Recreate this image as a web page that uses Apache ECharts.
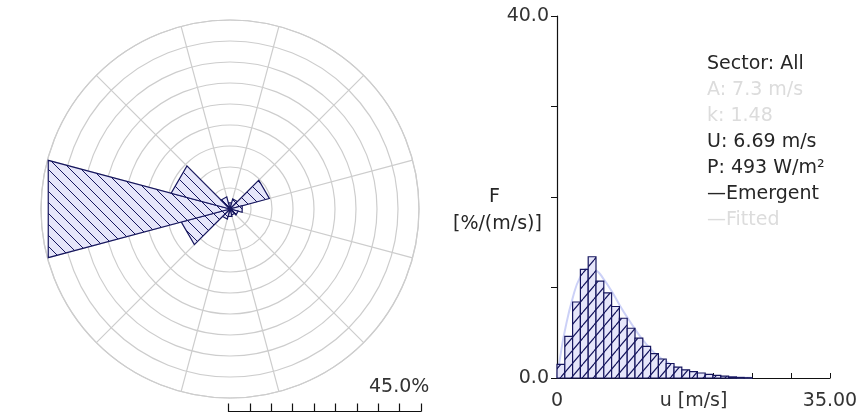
<!DOCTYPE html>
<html>
<head>
<meta charset="utf-8">
<script src="https://cdn.jsdelivr.net/npm/echarts@6/dist/echarts.min.js"></script>
<style>
  html, body { margin: 0; padding: 0; background: #ffffff; }
  #chart { width: 860px; height: 416px; }
</style>
</head>
<body>
<div id="chart"></div>
<script>
// Wind rose: sector centre directions (deg) and frequency per sector (%)
const sectorAngles = [0, 30, 60, 90, 120, 150, 180, 210, 240, 270, 300, 330];
const sectorFreq   = [1.5, 2.5, 9.7, 3.0, 2.0, 1.5, 1.8, 2.5, 12.0, 44.8, 14.5, 3.0];
const sectorWidth = 30;
const roseMax = 45;
const roseStep = 5;

// Speed distribution: bin start (m/s), 1 m/s wide bins, frequency in %/(m/s)
const speedBins = [0, 1, 2, 3, 4, 5, 6, 7, 8, 9, 10, 11, 12, 13, 14, 15, 16, 17, 18, 19, 20, 21, 22, 23, 24];
const speedFreq = [1.5, 4.6, 8.4, 12.0, 13.4, 10.7, 9.4, 7.9, 6.6, 5.5, 4.4, 3.5, 2.7, 2.1, 1.6, 1.2, 0.9, 0.7, 0.55, 0.4, 0.3, 0.2, 0.12, 0.06, 0.03];

// Fitted distribution curve, points (m/s, %/(m/s))
const fitSpeed = [0, 0.5, 1, 2, 3, 4, 5, 6, 7, 8, 9, 10, 11, 12, 13, 14, 16, 18, 20, 22, 25];
const fitFreq  = [0, 2.8, 5.2, 8.8, 11.2, 12.1, 11.9, 10.9, 9.6, 8.1, 6.7, 5.4, 4.2, 3.2, 2.4, 1.8, 0.9, 0.45, 0.2, 0.08, 0.02];

// Axis ranges
const speedMax = 35;
const speedTick = 5;
const freqMax = 40;
const freqTick = 10;

// Statistics panel
const statLines = ['Sector: All', 'A: 7.3 m/s', 'k: 1.48', 'U: 6.69 m/s', 'P: 493 W/m\u00b2', '\u2014Emergent', '\u2014Fitted'];
const statFaint = [false, true, true, false, false, false, true];

const scaleLabel = '45.0%';
const yNameLines = ['F', '[%/(m/s)]'];

const NAVY = '#16165e';
const FILL = '#e6e6fa';
const FONT = '"DejaVu Sans", Verdana, sans-serif';

function hatchTile(w, h, dir, width) {
  const c = document.createElement('canvas');
  c.width = w; c.height = h;
  const g = c.getContext('2d');
  g.fillStyle = FILL;
  g.fillRect(0, 0, w, h);
  g.strokeStyle = NAVY;
  g.lineWidth = width;
  g.beginPath();
  for (let k = -1; k <= 1; k++) {
    if (dir === 'back') {           // "\" lines
      g.moveTo(k * w, 0); g.lineTo(k * w + w, h);
    } else {                        // "/" lines
      g.moveTo(k * w, h); g.lineTo(k * w + w, 0);
    }
  }
  g.stroke();
  return c;
}

const roseHatch = { image: hatchTile(11, 11, 'back', 1), repeat: 'repeat' };
const histHatch = { image: hatchTile(11, 13, 'fwd', 1.2), repeat: 'repeat' };

const chart = echarts.init(document.getElementById('chart'), null, { renderer: 'canvas' });

const roseCenter = [230, 209];
const roseRadius = 189;

const textGraphics = statLines.map((t, i) => ({
  type: 'text',
  left: 707,
  top: 55 + i * 26,
  style: {
    text: t,
    font: '19px ' + FONT,
    fill: statFaint[i] ? '#dcdcdc' : '#262626'
  }
}));

const option = {
  backgroundColor: '#ffffff',
  animation: false,
  polar: [
    { center: roseCenter, radius: roseRadius },
    { center: roseCenter, radius: roseRadius }
  ],
  angleAxis: [
    {
      polarIndex: 0,
      type: 'category',
      data: sectorAngles.map(String),
      boundaryGap: true,
      startAngle: 90 + sectorWidth / 2,
      clockwise: true,
      axisLine: { show: true, lineStyle: { color: '#cdcdcd', width: 1.2 } },
      axisTick: { show: false },
      axisLabel: { show: false },
      splitLine: { show: true, lineStyle: { color: '#cdcdcd', width: 1.2 } }
    },
    {
      polarIndex: 1,
      type: 'value',
      min: 0, max: 360,
      startAngle: 90,
      clockwise: true,
      show: false
    }
  ],
  radiusAxis: [
    {
      polarIndex: 0,
      type: 'value',
      min: 0, max: roseMax, interval: roseStep,
      axisLine: { show: false },
      axisTick: { show: false },
      axisLabel: { show: false },
      splitLine: { show: true, lineStyle: { color: '#cdcdcd', width: 1.2 } }
    },
    {
      polarIndex: 1,
      type: 'value',
      min: 0, max: roseMax,
      show: false
    }
  ],
  grid: [
    // histogram
    { left: 557, top: 16, width: 273, height: 362, outerBoundsMode: 'none', containLabel: false },
    // rose scale bar
    { left: 228.5, top: 390, width: 192.5, height: 21.5, outerBoundsMode: 'none', containLabel: false }
  ],
  xAxis: [
    {
      gridIndex: 0,
      type: 'value',
      min: 0, max: speedMax, interval: speedTick,
      axisLine: { show: true, lineStyle: { color: '#111', width: 1.2 } },
      axisTick: { show: true, inside: true, length: 5, lineStyle: { color: '#111' } },
      splitLine: { show: false },
      axisLabel: {
        show: true,
        margin: 14,
        color: '#333',
        fontSize: 19,
        fontFamily: FONT,
        formatter: v => (v === 0 ? '0' : (v === speedMax ? speedMax.toFixed(2) : ''))
      },
      name: 'u [m/s]',
      nameLocation: 'middle',
      nameGap: 14,
      nameMoveOverlap: false,
      nameTextStyle: { color: '#333', fontSize: 19, fontFamily: FONT, verticalAlign: 'top' }
    },
    {
      gridIndex: 1,
      type: 'value',
      min: 0, max: roseMax, interval: roseStep,
      axisLine: { show: true, lineStyle: { color: '#111', width: 1.2 } },
      axisTick: { show: true, inside: true, length: 8, lineStyle: { color: '#111', width: 1.2 } },
      axisLabel: { show: false },
      splitLine: { show: false }
    }
  ],
  yAxis: [
    {
      gridIndex: 0,
      type: 'value',
      min: 0, max: freqMax, interval: freqTick,
      axisLine: { show: true, lineStyle: { color: '#111', width: 1.2 } },
      axisTick: { show: true, inside: false, length: 6, lineStyle: { color: '#111' } },
      splitLine: { show: false },
      axisLabel: {
        show: true,
        margin: 8,
        color: '#333',
        fontSize: 19,
        fontFamily: FONT,
        formatter: v => (v === 0 || v === freqMax ? v.toFixed(1) : '')
      }
    },
    {
      gridIndex: 1,
      type: 'value',
      min: 0, max: 1,
      show: false
    }
  ],
  graphic: [
    {
      type: 'text',
      left: 489,
      top: 188,
      style: { text: yNameLines[0], font: '19px ' + FONT, fill: '#262626' }
    },
    {
      type: 'text',
      left: 453,
      top: 215,
      style: { text: yNameLines[1], font: '19px ' + FONT, fill: '#262626' }
    },
    {
      type: 'text',
      left: 369,
      top: 378,
      style: { text: scaleLabel, font: '19px ' + FONT, fill: '#333' }
    }
  ].concat(textGraphics),
  series: [
    {
      type: 'custom',
      name: 'rose',
      coordinateSystem: 'polar',
      polarIndex: 1,
      data: sectorAngles.map((a, i) => [sectorFreq[i], a]),
      renderItem(params, api) {
        const r = api.value(0);
        const a = api.value(1);
        const c = api.coord([0, a]);
        const p1 = api.coord([r, a - sectorWidth / 2]);
        const p2 = api.coord([r, a + sectorWidth / 2]);
        return {
          type: 'polygon',
          shape: { points: [c, p1, p2] },
          style: { fill: roseHatch, stroke: NAVY, lineWidth: 1.2 }
        };
      },
      z: 5
    },
    {
      type: 'line',
      name: 'Fitted',
      xAxisIndex: 0,
      yAxisIndex: 0,
      data: fitSpeed.map((u, i) => [u, fitFreq[i]]),
      smooth: true,
      showSymbol: false,
      lineStyle: { color: '#aab3f2', width: 2, opacity: 0.6 },
      z: 2
    },
    {
      type: 'custom',
      name: 'Emergent',
      coordinateSystem: 'cartesian2d',
      xAxisIndex: 0,
      yAxisIndex: 0,
      clip: false,
      data: speedBins.map((b, i) => [b, speedFreq[i]]),
      renderItem(params, api) {
        const x0 = api.value(0);
        const f = api.value(1);
        const a = api.coord([x0, 0]);
        const b = api.coord([x0 + 1, f]);
        return {
          type: 'polygon',
          shape: { points: [[a[0], a[1]], [a[0], b[1]], [b[0], b[1]], [b[0], a[1]]] },
          style: { fill: histHatch, stroke: NAVY, lineWidth: 1.2 }
        };
      },
      z: 3
    }
  ]
};

chart.setOption(option);
</script>
</body>
</html>
